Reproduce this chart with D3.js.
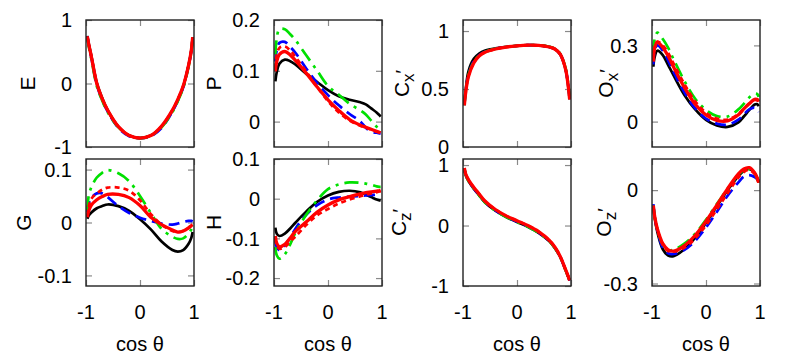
<!DOCTYPE html>
<html>
<head>
<meta charset="utf-8">
<script src="https://cdn.jsdelivr.net/npm/d3@7"></script>
<style>
  body { margin: 0; background: #fff; }
  text { font-family: "Liberation Sans", Arial, sans-serif; fill: #000; }
</style>
</head>
<body>
<div id="chart"></div>
<script>
// cos(theta) grid shared by all curves
var cosTheta = [-0.975, -0.95, -0.9, -0.8, -0.7, -0.6, -0.4, -0.2, 0, 0.2, 0.4, 0.6, 0.7, 0.8, 0.9, 0.95, 0.975];

// E
var eBlack = [0.75, 0.63, 0.43, 0.01, -0.23, -0.42, -0.68, -0.82, -0.86, -0.82, -0.68, -0.43, -0.26, -0.05, 0.29, 0.52, 0.73];
var eBlue  = [0.74, 0.61, 0.40, -0.02, -0.26, -0.44, -0.70, -0.83, -0.86, -0.83, -0.70, -0.44, -0.27, -0.06, 0.28, 0.51, 0.72];
var eGreen = [0.73, 0.59, 0.38, -0.04, -0.27, -0.45, -0.69, -0.82, -0.86, -0.82, -0.69, -0.45, -0.28, -0.07, 0.27, 0.50, 0.72];
var eRedD  = [0.74, 0.62, 0.42, 0.00, -0.24, -0.42, -0.68, -0.82, -0.86, -0.82, -0.67, -0.42, -0.25, -0.04, 0.29, 0.52, 0.73];
var eRed   = [0.74, 0.62, 0.42, 0.00, -0.24, -0.42, -0.68, -0.82, -0.86, -0.82, -0.67, -0.42, -0.25, -0.04, 0.29, 0.52, 0.73];

// P
var pBlack = [0.079, 0.097, 0.114, 0.122, 0.119, 0.112, 0.094, 0.078, 0.062, 0.050, 0.043, 0.038, 0.034, 0.026, 0.018, 0.013, 0.010];
var pBlue  = [0.118, 0.140, 0.155, 0.157, 0.147, 0.135, 0.104, 0.076, 0.052, 0.032, 0.015, 0.000, -0.012, -0.020, -0.022, -0.023, -0.023];
var pGreen = [0.132, 0.163, 0.182, 0.182, 0.172, 0.160, 0.130, 0.100, 0.070, 0.053, 0.035, 0.022, 0.014, 0.002, -0.010, -0.015, -0.018];
var pRedD  = [0.105, 0.130, 0.145, 0.148, 0.140, 0.127, 0.098, 0.068, 0.040, 0.018, 0.002, -0.008, -0.012, -0.016, -0.020, -0.021, -0.022];
var pRed   = [0.099, 0.118, 0.132, 0.138, 0.131, 0.120, 0.095, 0.068, 0.043, 0.022, 0.004, -0.007, -0.011, -0.015, -0.019, -0.021, -0.022];

// Cx'
var cxBlack = [0.37, 0.49, 0.65, 0.76, 0.805, 0.83, 0.85, 0.864, 0.873, 0.878, 0.876, 0.862, 0.845, 0.80, 0.67, 0.52, 0.41];
var cxBlue  = [0.36, 0.48, 0.62, 0.74, 0.79, 0.82, 0.847, 0.862, 0.872, 0.878, 0.876, 0.862, 0.845, 0.80, 0.67, 0.53, 0.42];
var cxGreen = [0.36, 0.48, 0.62, 0.735, 0.79, 0.818, 0.846, 0.862, 0.872, 0.878, 0.877, 0.864, 0.848, 0.805, 0.68, 0.54, 0.43];
var cxRedD  = [0.36, 0.47, 0.61, 0.728, 0.787, 0.816, 0.845, 0.862, 0.872, 0.878, 0.876, 0.862, 0.845, 0.80, 0.67, 0.52, 0.41];
var cxRed   = [0.36, 0.47, 0.605, 0.725, 0.785, 0.815, 0.845, 0.862, 0.872, 0.878, 0.876, 0.862, 0.845, 0.80, 0.67, 0.52, 0.41];

// Ox'
var oxBlack = [0.216, 0.255, 0.279, 0.262, 0.222, 0.182, 0.105, 0.048, 0.007, -0.015, -0.021, -0.003, 0.020, 0.045, 0.067, 0.068, 0.060];
var oxBlue  = [0.225, 0.280, 0.300, 0.280, 0.240, 0.195, 0.115, 0.052, 0.012, -0.008, -0.012, 0.008, 0.028, 0.048, 0.055, 0.045, 0.038];
var oxGreen = [0.268, 0.325, 0.350, 0.325, 0.290, 0.245, 0.160, 0.090, 0.046, 0.022, 0.020, 0.048, 0.070, 0.095, 0.110, 0.108, 0.097];
var oxRedD  = [0.240, 0.295, 0.315, 0.300, 0.270, 0.228, 0.148, 0.080, 0.035, 0.012, 0.008, 0.030, 0.050, 0.072, 0.085, 0.083, 0.075];
var oxRed   = [0.236, 0.290, 0.313, 0.292, 0.258, 0.215, 0.135, 0.068, 0.026, 0.005, 0.003, 0.027, 0.050, 0.070, 0.088, 0.087, 0.078];

// G
var gBlack = [0.007, 0.013, 0.019, 0.027, 0.031, 0.034, 0.031, 0.022, 0.006, -0.013, -0.036, -0.052, -0.055, -0.052, -0.040, -0.029, -0.018];
var gBlue  = [0.020, 0.035, 0.047, 0.055, 0.055, 0.048, 0.031, 0.018, 0.009, 0.003, -0.002, -0.004, -0.002, 0.001, 0.003, 0.003, 0.002];
var gGreen = [0.023, 0.050, 0.067, 0.085, 0.094, 0.099, 0.093, 0.078, 0.050, 0.018, -0.012, -0.027, -0.031, -0.030, -0.021, -0.013, -0.006];
var gRedD  = [0.012, 0.030, 0.045, 0.055, 0.062, 0.066, 0.066, 0.060, 0.042, 0.016, -0.004, -0.016, -0.018, -0.016, -0.010, -0.006, -0.004];
var gRed   = [0.010, 0.022, 0.033, 0.043, 0.049, 0.053, 0.053, 0.047, 0.032, 0.010, -0.004, -0.014, -0.018, -0.016, -0.010, -0.006, -0.004];

// H
var hBlack = [-0.073, -0.088, -0.094, -0.088, -0.075, -0.060, -0.032, -0.008, 0.008, 0.017, 0.020, 0.016, 0.010, 0.004, -0.002, -0.004, -0.005];
var hBlue  = [-0.105, -0.122, -0.130, -0.118, -0.098, -0.075, -0.040, -0.016, -0.002, 0.003, 0.005, 0.007, 0.008, 0.009, 0.010, 0.010, 0.010];
var hGreen = [-0.122, -0.142, -0.151, -0.140, -0.115, -0.085, -0.040, -0.004, 0.024, 0.036, 0.041, 0.040, 0.038, 0.035, 0.031, 0.030, 0.030];
var hRedD  = [-0.100, -0.118, -0.126, -0.122, -0.108, -0.095, -0.066, -0.042, -0.026, -0.012, -0.002, 0.006, 0.010, 0.013, 0.016, 0.018, 0.019];
var hRed   = [-0.094, -0.112, -0.121, -0.115, -0.099, -0.082, -0.058, -0.034, -0.016, -0.003, 0.005, 0.012, 0.015, 0.017, 0.019, 0.020, 0.021];

// Cz'
var czBlack = [0.94, 0.84, 0.74, 0.61, 0.50, 0.39, 0.245, 0.14, 0.06, -0.02, -0.12, -0.26, -0.37, -0.52, -0.74, -0.85, -0.91];
var czBlue  = [0.94, 0.84, 0.745, 0.615, 0.505, 0.395, 0.25, 0.145, 0.065, -0.015, -0.115, -0.255, -0.365, -0.515, -0.735, -0.85, -0.91];
var czGreen = [0.94, 0.84, 0.74, 0.61, 0.50, 0.39, 0.245, 0.142, 0.06, -0.02, -0.12, -0.26, -0.37, -0.52, -0.74, -0.85, -0.91];
var czRedD  = [0.95, 0.85, 0.76, 0.63, 0.52, 0.41, 0.265, 0.16, 0.08, 0.0, -0.10, -0.245, -0.355, -0.51, -0.73, -0.845, -0.91];
var czRed   = [0.95, 0.85, 0.76, 0.63, 0.52, 0.41, 0.265, 0.16, 0.08, 0.0, -0.10, -0.245, -0.355, -0.51, -0.73, -0.845, -0.91];

// Oz'
var ozBlack = [-0.050, -0.090, -0.135, -0.190, -0.210, -0.212, -0.190, -0.153, -0.105, -0.052, 0.000, 0.045, 0.062, 0.068, 0.055, 0.038, 0.025];
var ozBlue  = [-0.045, -0.085, -0.130, -0.185, -0.203, -0.205, -0.192, -0.163, -0.120, -0.070, -0.018, 0.025, 0.043, 0.048, 0.042, 0.035, 0.030];
var ozGreen = [-0.050, -0.086, -0.126, -0.174, -0.192, -0.192, -0.172, -0.140, -0.095, -0.045, 0.005, 0.050, 0.064, 0.068, 0.054, 0.036, 0.024];
var ozRedD  = [-0.050, -0.086, -0.127, -0.176, -0.196, -0.198, -0.185, -0.155, -0.113, -0.062, -0.010, 0.040, 0.058, 0.065, 0.052, 0.036, 0.024];
var ozRed   = [-0.050, -0.085, -0.125, -0.172, -0.192, -0.196, -0.178, -0.145, -0.100, -0.048, 0.005, 0.052, 0.068, 0.072, 0.056, 0.038, 0.024];

var xTickValues = [-1, 0, 1];

var svgWidth = 789;
var svgHeight = 354;

var cols = [[86, 194], [274, 382], [463, 571], [652, 760]];
var rows = [[20, 147], [159, 286]];

var styles = [
  { color: "#000000", width: 2.7, dash: null },
  { color: "#0000ff", width: 2.7, dash: "11,6" },
  { color: "#00e000", width: 2.7, dash: "14,6,3,6" },
  { color: "#ff0000", width: 2.7, dash: "5,4" },
  { color: "#ff0000", width: 3.3, dash: null }
];

var panels = [
  { label: "E", sub: null, row: 0, col: 0, domain: [-1, 1], ticks: [-1, 0, 1], fmt: d3.format("d"), labelX: 27,
    series: [eBlack, eBlue, eGreen, eRedD, eRed] },
  { label: "P", sub: null, row: 0, col: 1, domain: [-0.05, 0.2], ticks: [0, 0.1, 0.2], fmt: d3.format(".1f"), labelX: 213,
    series: [pBlack, pBlue, pGreen, pRedD, pRed] },
  { label: "C", sub: "x", row: 0, col: 2, domain: [0, 1.095], ticks: [0, 0.5, 1], fmt: d3.format(""), labelX: 401,
    series: [cxBlack, cxBlue, cxGreen, cxRedD, cxRed] },
  { label: "O", sub: "x", row: 0, col: 3, domain: [-0.1, 0.4], ticks: [0, 0.3], fmt: d3.format(".1f"), labelX: 605,
    series: [oxBlack, oxBlue, oxGreen, oxRedD, oxRed] },
  { label: "G", sub: null, row: 1, col: 0, domain: [-0.12, 0.12], ticks: [-0.1, 0, 0.1], fmt: d3.format(".1f"), labelX: 23,
    series: [gBlack, gBlue, gGreen, gRedD, gRed] },
  { label: "H", sub: null, row: 1, col: 1, domain: [-0.22, 0.1], ticks: [-0.2, -0.1, 0, 0.1], fmt: d3.format(".1f"), labelX: 213,
    series: [hBlack, hBlue, hGreen, hRedD, hRed] },
  { label: "C", sub: "z", row: 1, col: 2, domain: [-1, 1.1], ticks: [-1, 0, 1], fmt: d3.format("d"), labelX: 398,
    series: [czBlack, czBlue, czGreen, czRedD, czRed] },
  { label: "O", sub: "z", row: 1, col: 3, domain: [-0.308, 0.1], ticks: [-0.3, 0], fmt: d3.format(".1f"), labelX: 603,
    series: [ozBlack, ozBlue, ozGreen, ozRedD, ozRed] }
];

var svg = d3.select("#chart")
  .append("svg")
  .attr("width", svgWidth)
  .attr("height", svgHeight);

function trimZero(s) {
  // gnuplot prints "0" not "0.0"
  if (+s === 0) return "0";
  return s.replace("−", "-");
}

panels.forEach(function(p) {
  var x0 = cols[p.col][0], x1 = cols[p.col][1];
  var y0 = rows[p.row][0], y1 = rows[p.row][1];

  var xScale = d3.scaleLinear().domain([-1, 1]).range([x0, x1]);
  var yScale = d3.scaleLinear().domain(p.domain).range([y1, y0]);

  var g = svg.append("g");

  var clipId = "clip" + p.row + p.col;
  g.append("clipPath").attr("id", clipId)
    .append("rect")
    .attr("x", x0).attr("y", y0)
    .attr("width", x1 - x0).attr("height", y1 - y0);

  // inward ticks, mirrored on all four sides
  var tickLen = 6;
  var leftAxis = d3.axisRight(yScale).tickValues(p.ticks).tickSize(tickLen).tickFormat("");
  var rightAxis = d3.axisLeft(yScale).tickValues(p.ticks).tickSize(tickLen).tickFormat("");
  var bottomAxis = d3.axisTop(xScale).tickValues(xTickValues).tickSize(tickLen).tickFormat("");
  var topAxis = d3.axisBottom(xScale).tickValues(xTickValues).tickSize(tickLen).tickFormat("");

  [[leftAxis, `translate(${x0},0)`], [rightAxis, `translate(${x1},0)`],
   [bottomAxis, `translate(0,${y1})`], [topAxis, `translate(0,${y0})`]].forEach(function(a) {
    var ag = g.append("g").attr("transform", a[1]).call(a[0]);
    ag.select(".domain").remove();
    ag.selectAll("line").attr("stroke", "#8a8a8a").attr("stroke-width", 1.2);
  });

  // y tick labels
  g.selectAll(".ylab")
    .data(p.ticks)
    .enter()
    .append("text")
    .attr("x", x0 - 14)
    .attr("y", d => yScale(d))
    .attr("dy", "0.36em")
    .attr("text-anchor", "end")
    .style("font-size", "20px")
    .text(d => trimZero(p.fmt(d)));

  // curves
  var line = d3.line()
    .x((d, i) => xScale(cosTheta[i]))
    .y(d => yScale(d))
    .curve(d3.curveCatmullRom.alpha(0.5));

  var cg = g.append("g").attr("clip-path", `url(#${clipId})`);
  p.series.forEach(function(vals, k) {
    var st = styles[k];
    cg.append("path")
      .datum(vals)
      .attr("d", line)
      .attr("fill", "none")
      .attr("stroke", st.color)
      .attr("stroke-width", st.width)
      .attr("stroke-dasharray", st.dash);
  });

  // frame
  g.append("rect")
    .attr("x", x0).attr("y", y0)
    .attr("width", x1 - x0).attr("height", y1 - y0)
    .attr("fill", "none")
    .attr("stroke", "#222")
    .attr("stroke-width", 1.4);

  // y label
  var cy = (y0 + y1) / 2;
  var lab = g.append("text")
    .attr("transform", `translate(${p.labelX},${cy}) rotate(-90)`)
    .attr("text-anchor", "middle")
    .attr("dy", "0.36em")
    .style("font-size", "21px");
  lab.append("tspan").text(p.label);
  if (p.sub) {
    lab.append("tspan").attr("dy", 5).style("font-size", "17px").text(p.sub);
    lab.append("tspan").attr("dy", -5).style("font-size", "19px").text("′");
  }

  // x axis labels on bottom row
  if (p.row === 1) {
    g.selectAll(".xlab")
      .data(xTickValues)
      .enter()
      .append("text")
      .attr("x", d => xScale(d))
      .attr("y", 319)
      .attr("text-anchor", "middle")
      .style("font-size", "20px")
      .text(d => d);

    g.append("text")
      .attr("x", (x0 + x1) / 2)
      .attr("y", 351)
      .attr("text-anchor", "middle")
      .style("font-size", "20px")
      .text("cos θ");
  }
});
</script>
</body>
</html>
